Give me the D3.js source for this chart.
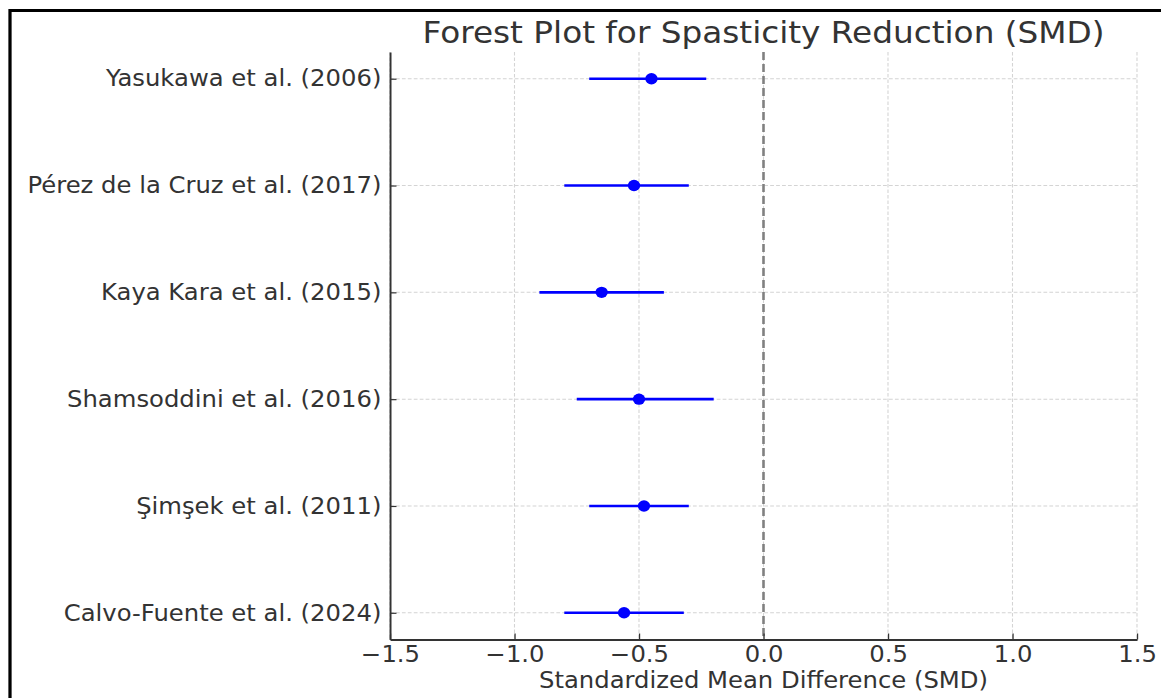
<!DOCTYPE html>
<html>
<head>
<meta charset="utf-8">
<script src="https://cdn.jsdelivr.net/npm/d3@7"></script>
<style>
  html, body { margin: 0; padding: 0; background: #fff; }
  svg { display: block; }
  text { font-family: "DejaVu Sans", sans-serif; fill: #333; }
</style>
</head>
<body>
<div id="chart"></div>
<script>
// forest plot data
const studies = ["Yasukawa et al. (2006)", "Pérez de la Cruz et al. (2017)", "Kaya Kara et al. (2015)",
                 "Shamsoddini et al. (2016)", "Şimşek et al. (2011)", "Calvo-Fuente et al. (2024)"];
const smd   = [-0.45, -0.52, -0.65, -0.50, -0.48, -0.56];
const lower = [-0.70, -0.80, -0.90, -0.75, -0.70, -0.80];
const upper = [-0.23, -0.30, -0.40, -0.20, -0.30, -0.32];
const xTicks = [-1.5, -1.0, -0.5, 0.0, 0.5, 1.0, 1.5];

// the reference is a little stretched sideways, so draw in a narrower box and stretch it
const K = 1.08;
const outerW = 1161, outerH = 698;
const W = outerW / K, H = outerH;

const svg = d3.select("#chart").append("svg")
    .attr("width", outerW)
    .attr("height", outerH)
    .attr("viewBox", `0 0 ${W} ${H}`)
    .attr("preserveAspectRatio", "none");

const plotL = 390 / K, plotR = 1137 / K, plotT = 52, plotB = 639.5;

const x = d3.scaleLinear().domain([-1.5, 1.5]).range([plotL, plotR]);
const y = d3.scaleLinear().domain([-0.25, studies.length - 0.75]).range([plotT, plotB]);

const fmt = d => d3.format(".1f")(d).replace("-", "\u2212");

// grid
let grid = svg.append("g").attr("class", "grid")
    .attr("stroke", "#d4d4d4").attr("stroke-width", 1).attr("stroke-dasharray", "3.5,2");
grid.selectAll("line.v").data(xTicks).enter().append("line")
    .attr("x1", d => x(d)).attr("x2", d => x(d))
    .attr("y1", plotT).attr("y2", plotB);
grid.selectAll("line.h").data(studies).enter().append("line")
    .attr("x1", plotL).attr("x2", plotR)
    .attr("y1", (d, i) => y(i)).attr("y2", (d, i) => y(i));

// zero line
svg.append("line")
    .attr("x1", x(0)).attr("x2", x(0))
    .attr("y1", plotT).attr("y2", plotB)
    .attr("stroke", "#808080").attr("stroke-width", 2.4)
    .attr("stroke-dasharray", "8,4");

// confidence intervals + points
let rows = svg.append("g").selectAll("g").data(studies).enter().append("g");
rows.append("line")
    .attr("x1", (d, i) => x(lower[i])).attr("x2", (d, i) => x(upper[i]))
    .attr("y1", (d, i) => y(i)).attr("y2", (d, i) => y(i))
    .attr("stroke", "#0000ff").attr("stroke-width", 2.6);
rows.append("circle")
    .attr("cx", (d, i) => x(smd[i]))
    .attr("cy", (d, i) => y(i))
    .attr("r", 5.7)
    .attr("fill", "#0000ff");

// axes
const xAxis = d3.axisBottom(x).tickValues(xTicks).tickFormat(fmt).tickSizeInner(-6).tickSizeOuter(0).tickPadding(6);
let gx = svg.append("g").attr("transform", `translate(0,${plotB})`).call(xAxis);
gx.select(".domain").attr("stroke", "#333").attr("stroke-width", 1.8);
gx.selectAll(".tick line").attr("stroke", "#333").attr("stroke-width", 1.2);
gx.selectAll(".tick text").attr("font-size", 22.5).attr("fill", "#333").attr("dy", "0.72em");

const yAxis = d3.axisLeft(y).tickValues(d3.range(studies.length)).tickFormat(i => studies[i])
    .tickSizeInner(-6).tickSizeOuter(0).tickPadding(8);
let gy = svg.append("g").attr("transform", `translate(${plotL},0)`).call(yAxis);
gy.select(".domain").attr("stroke", "#333").attr("stroke-width", 1.8);
gy.selectAll(".tick line").attr("stroke", "#333").attr("stroke-width", 1.2);
gy.selectAll(".tick text").attr("font-size", 22.5).attr("fill", "#333");
gy.selectAll("text").style("font-family", "DejaVu Sans, sans-serif");
gx.selectAll("text").style("font-family", "DejaVu Sans, sans-serif");

// labels
svg.append("text")
    .attr("x", (plotL + plotR) / 2).attr("y", 43)
    .attr("text-anchor", "middle")
    .attr("font-size", 30.3)
    .text("Forest Plot for Spasticity Reduction (SMD)");

svg.append("text")
    .attr("x", (plotL + plotR) / 2).attr("y", 688)
    .attr("text-anchor", "middle")
    .attr("font-size", 22.5)
    .text("Standardized Mean Difference (SMD)");

// outer frame
svg.append("rect")
    .attr("x", 10 / K).attr("y", 10.5)
    .attr("width", W).attr("height", H)
    .attr("fill", "none").attr("stroke", "#000").attr("stroke-width", 3);
</script>
</body>
</html>
